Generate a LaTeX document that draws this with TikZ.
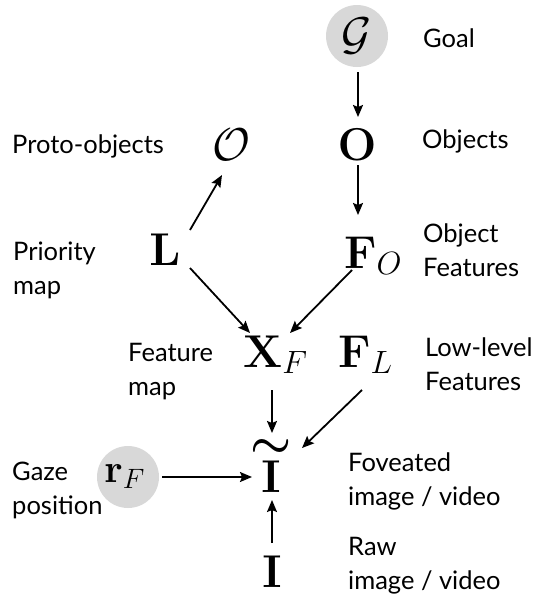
\RequirePackage{fix-cm}
\documentclass[tikz,border=0pt]{standalone}
\usepackage[no-math]{fontspec}
\usepackage{graphicx}
\setmainfont{Lato}
\usetikzlibrary{arrows.meta,calc}
\definecolor{circfill}{RGB}{216,216,216}
\begin{document}
\begin{tikzpicture}[x=1pt,y=-1pt,
  mth/.style={inner sep=0pt, font=\fontsize{46}{50}\selectfont},
  lbl/.style={font=\fontsize{25.5}{34}\selectfont, align=left, inner sep=0pt, anchor=base west},
  arr/.style={line width=1.8pt, -{Stealth[length=12pt,width=10pt,inset=2pt]}},
  gcirc/.style={circle, fill=circfill, minimum size=62pt, inner sep=0pt, font=\fontsize{46}{50}\selectfont}]
\useasboundingbox (0,0) rectangle (540,606);
% math nodes
\node[gcirc] (G) at (357,36) {$\mathcal{G}$};
\node[mth, anchor=base] (O) at (357,160) {$\mathbf{O}$};
\node[mth, anchor=base] (P) at (231,160) {$\mathcal{O}$};
\node[mth, anchor=base west] (FO) at (344,268) {$\mathbf{F}_O$};
\node[mth, anchor=base] (L) at (165,265) {$\mathbf{L}$};
\node[mth, anchor=base west] (XF) at (243,367) {$\mathbf{X}_F$};
\node[mth, anchor=base west] (FL) at (338,367) {$\mathbf{F}_L$};
\node[mth, anchor=base] (It) at (271,492) {\shortstack{\scalebox{1.0}[1.0]{\boldmath$\sim$}\\$\mathbf{I}$}};
\node[mth, anchor=base] (I) at (272,587) {$\mathbf{I}$};
\node[gcirc, font=\fontsize{40}{44}\selectfont] (R) at (128,477) {$\mathbf{r}_F\,$};
% labels
\node[lbl] (tGoal) at (423,47) {Goal};
\node[lbl] (tObj) at (422,148) {Objects};
\node[lbl] (tProto) at (12,153) {Proto-objects};
\node[lbl] (tOF) at (423,276) {Object\\Features};
\node[lbl] (tPri) at (13,294) {Priority\\map};
\node[lbl] (tFm) at (128,395) {Feature\\map};
\node[lbl] (tLow) at (425,390) {Low-level\\Features};
\node[lbl] (tGaze) at (12,514) {Gaze\\position};
\node[lbl] (tFov) at (348,505) {Foveated\\image / video};
\node[lbl] (tRaw) at (348,589) {Raw\\image / video};
% arrows
\draw[arr] ([shift={(1,36)}]G.center) -- ([shift={(1,-43)}]O.base);
\draw[arr] ([shift={(1,5)}]O.base) -- ([shift={(14,-53)}]FO.base west);
\draw[arr] ([shift={(25,-35)}]L.base) -- ([shift={(-9,15)}]P.base);
\draw[arr] ([shift={(25,3)}]L.base) -- ([shift={(7,-34)}]XF.base west);
\draw[arr] ([shift={(8,2)}]FO.base west) -- ([shift={(47,-34)}]XF.base west);
\draw[arr] ([shift={(29,23)}]XF.base west) -- ([shift={(1,-59)}]It.base);
\draw[arr] ([shift={(24,23)}]FL.base west) -- ([shift={(31,-44)}]It.base);
\draw[arr] ([shift={(34,0)}]R.center) -- ([shift={(-19,-15)}]It.base);
\draw[arr] ([shift={(0,-44)}]I.base) -- ([shift={(1,8)}]It.base);
\end{tikzpicture}
\end{document}
